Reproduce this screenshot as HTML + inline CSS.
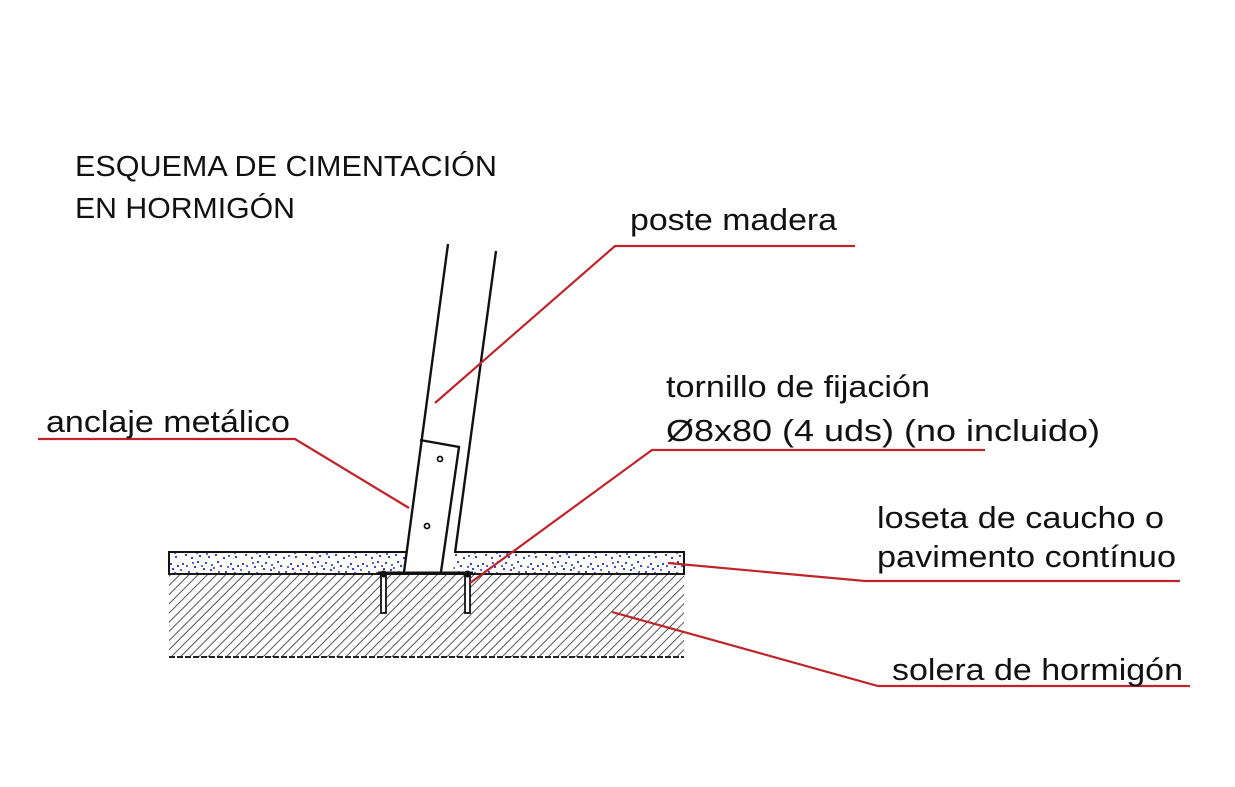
<!DOCTYPE html>
<html><head><meta charset="utf-8"><style>
html,body{margin:0;padding:0;background:#fff;}
svg{display:block;}
text{font-family:"Liberation Sans",Arial,sans-serif;fill:#111;}
</style></head><body>
<svg width="1235" height="787" viewBox="0 0 1235 787" xmlns="http://www.w3.org/2000/svg">
<defs>
<pattern id="hatch" patternUnits="userSpaceOnUse" width="6.5" height="6.5" patternTransform="rotate(45)">
<line x1="0" y1="0" x2="0" y2="6.5" stroke="#555" stroke-width="2"/>
</pattern>
<pattern id="dots" patternUnits="userSpaceOnUse" width="60" height="20">
<g fill="#2233cc">
<circle cx="3" cy="4" r="1.1"/><circle cx="9" cy="12" r="1.1"/><circle cx="15" cy="7" r="1.1"/><circle cx="20" cy="16" r="1.1"/>
<circle cx="26" cy="3" r="1.1"/><circle cx="31" cy="10" r="1.1"/><circle cx="36" cy="15" r="1.1"/><circle cx="41" cy="6" r="1.1"/>
<circle cx="46" cy="12" r="1.1"/><circle cx="51" cy="4" r="1.1"/><circle cx="56" cy="17" r="1.1"/><circle cx="12" cy="18" r="1.1"/>
<circle cx="24" cy="9" r="1.1"/><circle cx="44" cy="18" r="1.1"/><circle cx="6" cy="15" r="1.1"/><circle cx="53" cy="9" r="1.1"/>
<circle cx="18" cy="2" r="1.1"/><circle cx="38" cy="2" r="1.1"/><circle cx="29" cy="17" r="1.1"/><circle cx="58" cy="6" r="1.1"/>
<circle cx="1" cy="10" r="1"/><circle cx="7" cy="6" r="1"/><circle cx="17" cy="13" r="1"/><circle cx="22" cy="6" r="1"/>
<circle cx="34" cy="8" r="1"/><circle cx="39" cy="12" r="1"/><circle cx="48" cy="7" r="1"/><circle cx="55" cy="13" r="1"/>
<circle cx="27" cy="14" r="1"/><circle cx="13" cy="3" r="1"/><circle cx="49" cy="16" r="1"/><circle cx="32" cy="5" r="1"/>
</g>
</pattern>
</defs>

<rect x="169" y="574" width="515" height="83" fill="url(#hatch)"/>
<line x1="169" y1="657" x2="684" y2="657" stroke="#222" stroke-width="2" stroke-dasharray="6,2"/>
<rect x="169" y="552" width="515" height="22" fill="url(#dots)" stroke="#111" stroke-width="2"/>
<line x1="169" y1="574" x2="684" y2="574" stroke="#222" stroke-width="1.5" stroke-dasharray="4,2"/>

<polygon points="404,573 420,440 459,447 455,553 453,573" fill="#fff"/>
<line x1="448" y1="244" x2="404" y2="572" stroke="#111" stroke-width="2.4"/>
<line x1="496" y1="251" x2="455" y2="553" stroke="#111" stroke-width="2.4"/>
<polyline points="420,440 459,447 441,572" fill="none" stroke="#111" stroke-width="2.4"/>
<circle cx="440" cy="459" r="2.5" fill="none" stroke="#111" stroke-width="1.8"/>
<circle cx="427" cy="526" r="2.5" fill="none" stroke="#111" stroke-width="1.8"/>
<line x1="378" y1="573" x2="473" y2="573" stroke="#111" stroke-width="3"/>
<rect x="381" y="573" width="5" height="40" fill="#fff" stroke="#111" stroke-width="1.8"/>
<rect x="465" y="573" width="5" height="40" fill="#fff" stroke="#111" stroke-width="1.8"/>
<circle cx="383.5" cy="574" r="3.5" fill="#111"/>
<circle cx="467.5" cy="574" r="3.5" fill="#111"/>

<g stroke="#c0242a" stroke-width="2.2" fill="none">
<polyline points="435,403 615,246 855,246"/>
<polyline points="409,508 295,439 38,439"/>
<polyline points="470,583 652,450 985,450"/>
<polyline points="668,563 865,581 1180,581"/>
<polyline points="612,612 878,686 1190,686"/>
</g>

<text x="75" y="176" font-size="29" textLength="422" lengthAdjust="spacingAndGlyphs">ESQUEMA DE CIMENTACIÓN</text>
<text x="75" y="218" font-size="29" textLength="220" lengthAdjust="spacingAndGlyphs">EN HORMIGÓN</text>
<text x="630" y="230" font-size="31" textLength="207" lengthAdjust="spacingAndGlyphs">poste madera</text>
<text x="46" y="432" font-size="31" textLength="244" lengthAdjust="spacingAndGlyphs">anclaje metálico</text>
<text x="666" y="397" font-size="31" textLength="264" lengthAdjust="spacingAndGlyphs">tornillo de fijación</text>
<text x="666" y="441" font-size="31" textLength="434" lengthAdjust="spacingAndGlyphs">Ø8x80 (4 uds)  (no incluido)</text>
<text x="877" y="528" font-size="31" textLength="287" lengthAdjust="spacingAndGlyphs">loseta de caucho o</text>
<text x="877" y="567" font-size="31" textLength="299" lengthAdjust="spacingAndGlyphs">pavimento contínuo</text>
<text x="892" y="680" font-size="31" textLength="291" lengthAdjust="spacingAndGlyphs">solera de hormigón</text>
</svg>
</body></html>
